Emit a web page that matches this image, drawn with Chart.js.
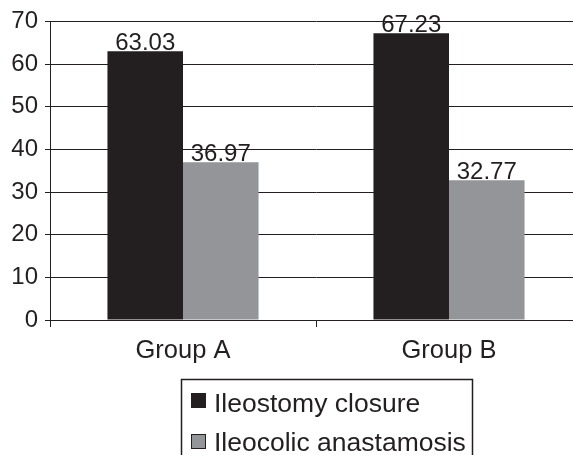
<!DOCTYPE html>
<html>
<head>
<meta charset="utf-8">
<script src="https://cdn.jsdelivr.net/npm/chart.js@4.4.1/dist/chart.umd.min.js"></script>
<style>
html,body{margin:0;padding:0;background:#fff;overflow:hidden;width:573px;height:455px;}
#wrap{width:600px;height:455px;}
</style>
</head>
<body>
<div id="wrap"><canvas id="c" width="600" height="455"></canvas></div>
<script>
const categories = ["Group A", "Group B"];
const seriesNames = ["Ileostomy closure", "Ileocolic anastamosis"];
const ileostomyClosure = [63.03, 67.23];
const ileocolicAnastamosis = [36.97, 32.77];
const yTicks = [0, 10, 20, 30, 40, 50, 60, 70];

const DARK = "#231f20";
const GRAY = "#939598";
const FONT = "'Liberation Sans', Arial, sans-serif";

const valueLabels = {
  id: "valueLabels",
  afterDatasetsDraw(chart) {
    const ctx = chart.ctx;
    ctx.save();
    ctx.fillStyle = DARK;
    ctx.font = "24px " + FONT;
    ctx.textAlign = "center";
    ctx.textBaseline = "alphabetic";
    chart.data.datasets.forEach((ds, i) => {
      chart.getDatasetMeta(i).data.forEach((bar, j) => {
        ctx.fillText(ds.data[j].toFixed(2), bar.x, bar.y - 1);
      });
    });
    ctx.restore();
  }
};

const boxLegend = {
  id: "boxLegend",
  afterDraw(chart) {
    const ctx = chart.ctx;
    ctx.save();
    ctx.strokeStyle = DARK;
    ctx.lineWidth = 1.5;
    ctx.strokeRect(181.5, 379.5, 291, 120);
    ctx.font = "26.5px " + FONT;
    ctx.textBaseline = "alphabetic";
    ctx.textAlign = "left";
    const rows = [{sq: 393, base: 412}, {sq: 434, base: 451}];
    chart.data.datasets.forEach((ds, i) => {
      const r = rows[i];
      ctx.fillStyle = ds.backgroundColor;
      ctx.fillRect(191, r.sq, 15, 15);
      ctx.lineWidth = 1;
      ctx.strokeRect(191.5, r.sq + 0.5, 14, 14);
      ctx.fillStyle = DARK;
      ctx.fillText(ds.label, 214, r.base);
    });
    ctx.restore();
  }
};

new Chart(document.getElementById("c"), {
  type: "bar",
  data: {
    labels: categories,
    datasets: [
      {label: seriesNames[0], data: ileostomyClosure, backgroundColor: DARK},
      {label: seriesNames[1], data: ileocolicAnastamosis, backgroundColor: GRAY}
    ]
  },
  options: {
    responsive: false,
    animation: false,
    devicePixelRatio: 1,
    layout: {padding: {top: 21, right: 18, bottom: 80, left: 0}},
    datasets: {bar: {barPercentage: 1, categoryPercentage: 0.568}},
    plugins: {legend: {display: false}, tooltip: {enabled: false}},
    scales: {
      x: {
        afterFit(s) { s.height = 55; },
        grid: {display: true, drawOnChartArea: false, drawTicks: true, tickLength: 7, color: DARK, lineWidth: 1, offset: true},
        border: {display: true, color: DARK, width: 1},
        ticks: {color: DARK, font: {family: FONT, size: 25.5}, padding: 9}
      },
      y: {
        min: 0, max: 70,
        afterFit(s) { s.width = 50; },
        afterBuildTicks(s) { s.ticks = yTicks.map(v => ({value: v})); },
        grid: {color: DARK, lineWidth: 1, tickLength: 5},
        border: {display: true, color: DARK, width: 1},
        ticks: {color: DARK, font: {family: FONT, size: 24}, padding: 7}
      }
    }
  },
  plugins: [valueLabels, boxLegend]
});
</script>
</body>
</html>
